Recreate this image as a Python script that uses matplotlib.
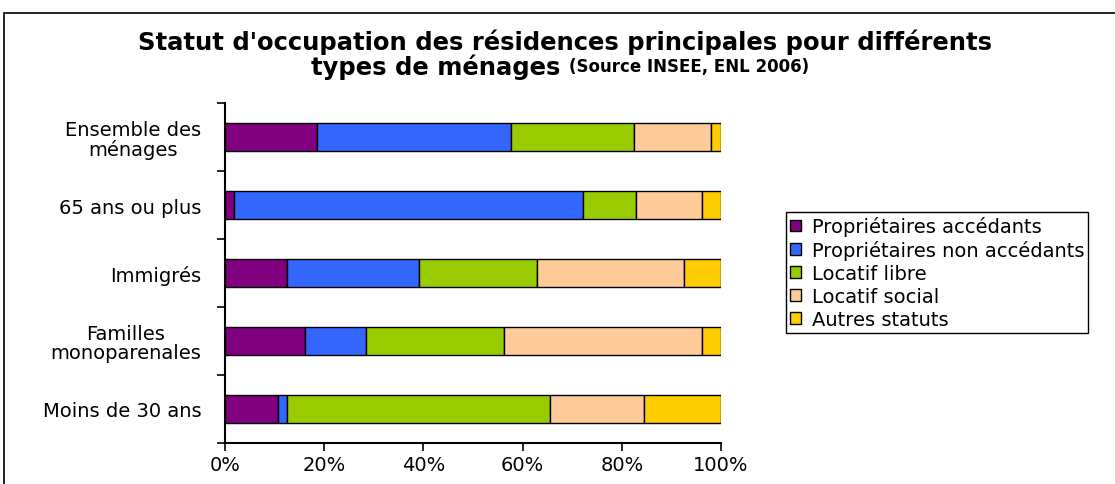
import matplotlib.pyplot as plt
from matplotlib.patches import Rectangle

# === Data (%) ===
categories = ["Ensemble des\nménages", "65 ans ou plus", "Immigrés",
              "Familles\nmonoparenales", "Moins de 30 ans"]
series_names = ["Propriétaires accédants", "Propriétaires non accédants",
                "Locatif libre", "Locatif social", "Autres statuts"]
prop_accedants = [18.5, 1.8, 12.5, 16.2, 10.6]
prop_non_accedants = [39.2, 70.4, 26.7, 12.2, 1.8]
locatif_libre = [24.8, 10.6, 23.7, 27.8, 53.1]
locatif_social = [15.5, 13.4, 29.7, 40.0, 19.0]
autres_statuts = [2.0, 3.8, 7.4, 3.8, 15.5]
xtick_values = [0, 20, 40, 60, 80, 100]

series = [prop_accedants, prop_non_accedants, locatif_libre, locatif_social, autres_statuts]
colors = ["#800080", "#3366FF", "#99CC00", "#FFCC99", "#FFCC00"]

W, H = 1115, 485
plt.rcParams['font.family'] = ['DejaVu Sans']
fig = plt.figure(figsize=(W / 100, H / 100), dpi=100)

ax = fig.add_axes([225 / W, 1 - 444 / H, 496 / W, 340 / H])

ypos = list(range(len(categories)))
left = [0] * len(categories)
for vals, name, col in zip(series, series_names, colors):
    ax.barh(ypos, vals, left=left, height=0.41, color=col, edgecolor='black',
            linewidth=1, label=name)
    left = [a + b for a, b in zip(left, vals)]

ax.set_xlim(0, 100)
ax.set_ylim(len(categories) - 0.5, -0.5)
ax.set_xticks(xtick_values)
ax.set_xticklabels([f"{v}%" for v in xtick_values], fontsize=14)
ax.set_yticks(ypos)
ax.set_yticklabels(categories, fontsize=14, multialignment='center', linespacing=1.0)
ax.tick_params(axis='y', which='major', length=0, pad=17)
ax.set_yticks([y - 0.5 for y in ypos] + [len(categories) - 0.5], minor=True)
ax.tick_params(axis='y', which='minor', length=6, width=1.2)
ax.tick_params(axis='x', length=6, width=1.2, pad=3)

for s in ['top', 'right']:
    ax.spines[s].set_visible(False)
for s in ['left', 'bottom']:
    ax.spines[s].set_linewidth(1.5)

# title: two lines, second with a smaller part
fig.text(565 / W, 1 - 42 / H, "Statut d'occupation des résidences principales pour différents",
         ha='center', va='center', fontsize=17.5, fontweight='bold')
fig.canvas.draw()
r = fig.canvas.get_renderer()
t1 = fig.text(0, 1 - 67 / H, "types de ménages ", ha='left', va='center',
              fontsize=17.5, fontweight='bold')
t2 = fig.text(0, 1 - 67 / H, "(Source INSEE, ENL 2006)", ha='left', va='center',
              fontsize=12, fontweight='bold')
w1 = t1.get_window_extent(r).width
w2 = t2.get_window_extent(r).width
x0 = 560 - (w1 + w2) / 2
t1.set_x(x0 / W)
t2.set_x((x0 + w1) / W)

leg = fig.legend(loc='upper left', bbox_to_anchor=(786 / W, 1 - 213 / H),
                 fontsize=14, frameon=True, fancybox=False, framealpha=1,
                 edgecolor='black', handlelength=0.55, handleheight=0.55,
                 handletextpad=0.55, labelspacing=0.2, borderpad=0.22,
                 borderaxespad=0)
leg.get_frame().set_linewidth(1)

# outer chart border
fig.patches.append(Rectangle((4 / W, -0.1), 2, 1 - 14 / H + 0.1, transform=fig.transFigure,
                             fill=False, edgecolor='black', linewidth=1.2, clip_on=False))

plt.savefig("out.png", dpi=100)
